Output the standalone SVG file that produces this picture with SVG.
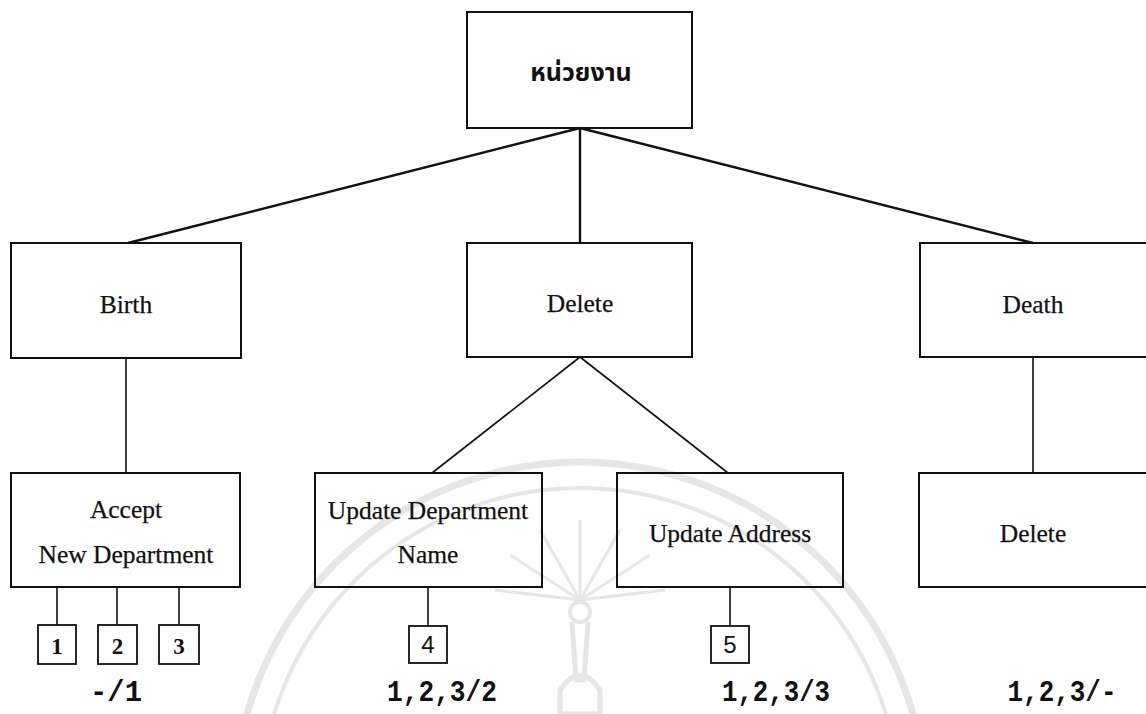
<svg xmlns="http://www.w3.org/2000/svg" width="1146" height="714" viewBox="0 0 1146 714">
  <style>
    .box { fill: none; stroke: #111; stroke-width: 2; }
    .tag { fill: none; stroke: #111; stroke-width: 1.8; }
    .lbl { font-family: "Liberation Serif", "Times New Roman", serif; font-size: 25.5px; fill: #111; text-anchor: middle; stroke: #111; stroke-width: 0.25; }
    .thai { font-family: "Noto Sans Thai", "Loma", "Tlwg Typo", "DejaVu Sans", "Liberation Sans", sans-serif; font-size: 25px; font-weight: bold; fill: #111; text-anchor: middle; }
    .num { font-family: "Liberation Serif", serif; font-size: 23px; font-weight: bold; fill: #111; text-anchor: middle; }
    .nums { font-family: "Liberation Sans", Arial, sans-serif; font-size: 24px; fill: #111; text-anchor: middle; }
    .code { font-family: "Liberation Mono", "Courier New", monospace; font-size: 29px; font-weight: bold; fill: #111; text-anchor: middle; }
    .wm { fill: none; stroke: #e6e6e6; }
    .ln { stroke: #111; stroke-width: 2.4; fill: none; }
    .ln2 { stroke: #111; stroke-width: 1.6; fill: none; }
  </style>

  <rect width="1146" height="714" fill="#fff"/>

  <!-- faint seal in the background -->
  <g id="watermark" class="wm">
    <circle cx="580" cy="808" r="346" stroke-width="7"/>
    <circle cx="580" cy="808" r="320" stroke-width="4"/>
    <g stroke-width="3">
      <line x1="580" y1="600" x2="580" y2="520"/>
      <line x1="580" y1="600" x2="620" y2="530"/>
      <line x1="580" y1="600" x2="540" y2="530"/>
      <line x1="580" y1="600" x2="650" y2="555"/>
      <line x1="580" y1="600" x2="510" y2="555"/>
      <line x1="580" y1="600" x2="665" y2="590"/>
      <line x1="580" y1="600" x2="495" y2="590"/>
    </g>
    <circle cx="580" cy="612" r="10" stroke-width="4"/>
    <path d="M572 622 L576 680 L584 680 L588 622" stroke-width="5"/>
    <path d="M560 690 Q580 660 600 690 L600 714 L560 714 Z" stroke-width="5"/>
  </g>

  <!-- connectors -->
  <g id="connectors">
    <line class="ln" x1="580" y1="128" x2="128" y2="243"/>
    <line class="ln" x1="580" y1="128" x2="580" y2="243"/>
    <line class="ln" x1="580" y1="128" x2="1033" y2="243"/>
    <line class="ln2" x1="126" y1="358" x2="126" y2="473"/>
    <line class="ln2" x1="580" y1="357" x2="432" y2="473"/>
    <line class="ln2" x1="580" y1="357" x2="728" y2="473"/>
    <line class="ln2" x1="1033" y1="357" x2="1033" y2="473"/>
    <line class="ln2" x1="57" y1="587" x2="57" y2="625"/>
    <line class="ln2" x1="117" y1="587" x2="117" y2="625"/>
    <line class="ln2" x1="179" y1="587" x2="179" y2="625"/>
    <line class="ln2" x1="428" y1="587" x2="428" y2="626"/>
    <line class="ln2" x1="730" y1="587" x2="730" y2="626"/>
  </g>

  <g id="root">
    <rect class="box" x="467" y="12" width="225" height="116"/>
    <text class="thai" x="581" y="81">หน่วยงาน</text>
  </g>

  <g id="birth">
    <rect class="box" x="11" y="243" width="230" height="115"/>
    <text class="lbl" x="126" y="313">Birth</text>
  </g>

  <g id="delete">
    <rect class="box" x="467" y="243" width="225" height="114"/>
    <text class="lbl" x="580" y="312">Delete</text>
  </g>

  <g id="death">
    <rect class="box" x="920" y="243" width="240" height="114"/>
    <text class="lbl" x="1033" y="313">Death</text>
  </g>

  <g id="accept">
    <rect class="box" x="11" y="473" width="229" height="114"/>
    <text class="lbl" x="126" y="518">Accept</text>
    <text class="lbl" x="126" y="563">New Department</text>
  </g>

  <g id="update-name">
    <rect class="box" x="315" y="473" width="227" height="114"/>
    <text class="lbl" x="428" y="519">Update Department</text>
    <text class="lbl" x="428" y="563">Name</text>
  </g>

  <g id="update-address">
    <rect class="box" x="617" y="473" width="226" height="114"/>
    <text class="lbl" x="730" y="542">Update Address</text>
  </g>

  <g id="death-delete">
    <rect class="box" x="919" y="473" width="240" height="114"/>
    <text class="lbl" x="1033" y="542">Delete</text>
  </g>

  <g id="tag-1">
    <rect class="tag" x="38" y="625" width="38" height="39"/>
    <text class="num" x="57" y="654">1</text>
  </g>
  <g id="tag-2">
    <rect class="tag" x="98" y="625" width="39" height="39"/>
    <text class="num" x="117.5" y="654">2</text>
  </g>
  <g id="tag-3">
    <rect class="tag" x="159" y="625" width="40" height="39"/>
    <text class="num" x="179" y="654">3</text>
  </g>
  <g id="tag-4">
    <rect class="tag" x="409" y="626" width="38" height="37"/>
    <text class="nums" x="428" y="653">4</text>
  </g>
  <g id="tag-5">
    <rect class="tag" x="711" y="626" width="38" height="37"/>
    <text class="nums" x="730" y="653">5</text>
  </g>

  <g id="codes">
    <text class="code" x="116" y="701" textLength="52" lengthAdjust="spacingAndGlyphs">-/1</text>
    <text class="code" x="442" y="701" textLength="110" lengthAdjust="spacingAndGlyphs">1,2,3/2</text>
    <text class="code" x="776" y="701" textLength="108" lengthAdjust="spacingAndGlyphs">1,2,3/3</text>
    <text class="code" x="1062" y="701" textLength="109" lengthAdjust="spacingAndGlyphs">1,2,3/-</text>
  </g>
</svg>
